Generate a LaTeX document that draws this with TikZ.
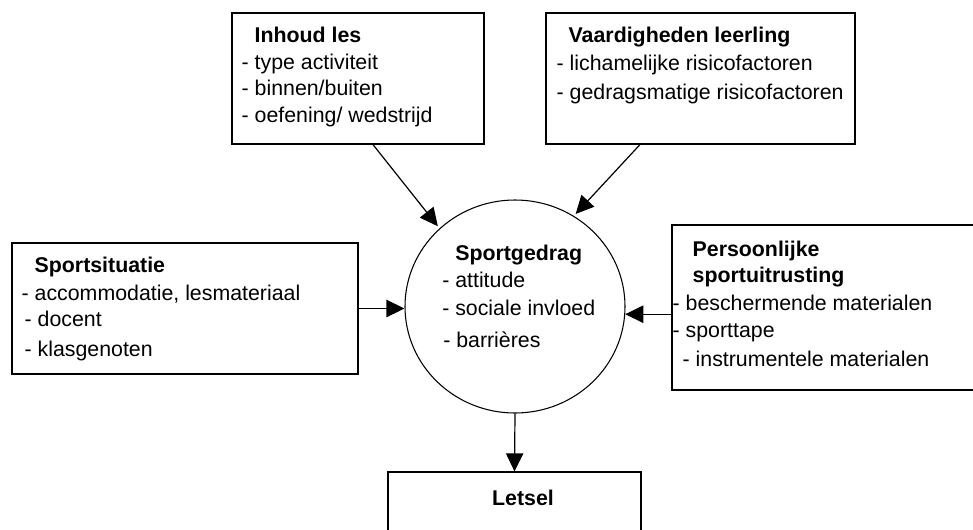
\documentclass[tikz,border=0pt]{standalone}
\usepackage{fontspec}
\setmainfont{Liberation Sans}
\usetikzlibrary{positioning,shapes.geometric,arrows.meta}

\begin{document}
\begin{tikzpicture}[x=0.75pt, y=-0.75pt,
  box/.style = {draw, line width=0.9pt, inner sep=0pt},
  ring/.style = {draw, ellipse, line width=0.8pt, inner sep=0pt,
    minimum width=165pt, minimum height=159.75pt},
  txt/.style = {anchor=north west, inner sep=0pt, align=left,
    font=\fontsize{16}{20}\selectfont},
  arr/.style = {line width=0.9pt, -{Triangle[length=13.5pt,width=13pt]}}
  ]
  \useasboundingbox (0,0) rectangle (973,529);
  \clip (0,0) rectangle (973,529);

  % boxes
  \node (inhoud) [box, minimum width=189pt, minimum height=98.25pt] at (358,78.5) {};
  \node (vaard) [box, minimum width=231.75pt, minimum height=98.25pt] at (700.5,78.5) {};
  \node (situatie) [box, minimum width=259.5pt, minimum height=98.25pt] at (185,308.5) {};
  \node (uitrusting) [box, minimum width=247.5pt, minimum height=123.75pt] at (837,307.5) {};
  \node (letsel) [box, minimum width=189.75pt, minimum height=75pt] at (514.5,522) {};
  \node (sport) [ring] at (515,306.5) {};

  % texts
  \node (inhoud-txt) [txt, below right=10.7pt and 7.5pt of inhoud.north west]
    {\hspace*{9.75pt}\textbf{Inhoud les}\\- type activiteit\\
     - binnen/buiten\\- oefening/ wedstrijd};
  \node (vaard-txt) [txt, below right=10.7pt and 8.25pt of vaard.north west]
    {\hspace*{9pt}\textbf{Vaardigheden leerling}\\[1pt]
     - lichamelijke risicofactoren\\[1.75pt]- gedragsmatige risicofactoren};
  \node (situatie-txt) [txt, below right=10.7pt and 7.5pt of situatie.north west]
    {\hspace*{9.75pt}\textbf{Sportsituatie}\\[1pt]- accommodatie, lesmateriaal\\[-0.5pt]
     \hspace*{2.25pt}- docent\\[2.5pt]\hspace*{2.25pt}- klasgenoten};
  \node (uitrusting-txt) [txt, below right=12.2pt and 0.75pt of uitrusting.north west]
    {\hspace*{15pt}\textbf{Persoonlijke}\\[-0.5pt]\hspace*{15pt}\textbf{sportuitrusting}\\[1pt]
     - beschermende materialen\\[0.25pt]- sporttape\\[1.75pt]
     \hspace*{7.5pt}- instrumentele materialen};
  \node (sport-txt) [txt] at ([xshift=-54.75pt,yshift=46.65pt]sport.center)
    {\hspace*{9.75pt}\textbf{Sportgedrag}\\[0.25pt]- attitude\\[1pt]
     - sociale invloed\\[4pt]\hspace*{0.75pt}- barri\`eres};
  \node (letsel-txt) [inner sep=0pt, anchor=base, font=\fontsize{16}{20}\selectfont\bfseries]
    at ([xshift=6.4pt,yshift=-25.5pt]letsel.north) {Letsel};

  % connectors
  \draw[arr, shorten >=2pt] ([xshift=11.25pt]inhoud.south) -- (sport.134.5);
  \draw[arr, shorten >=2pt] ([xshift=-45.4pt]vaard.south) -- (sport.57);
  \draw[arr] (situatie.east) -- (situatie.east -| sport.west);
  \draw[arr] (uitrusting.west |- sport.-4.5) -- (sport.-4.5);
  \draw[arr] (sport.south) -- (letsel.north);
\end{tikzpicture}
\end{document}
